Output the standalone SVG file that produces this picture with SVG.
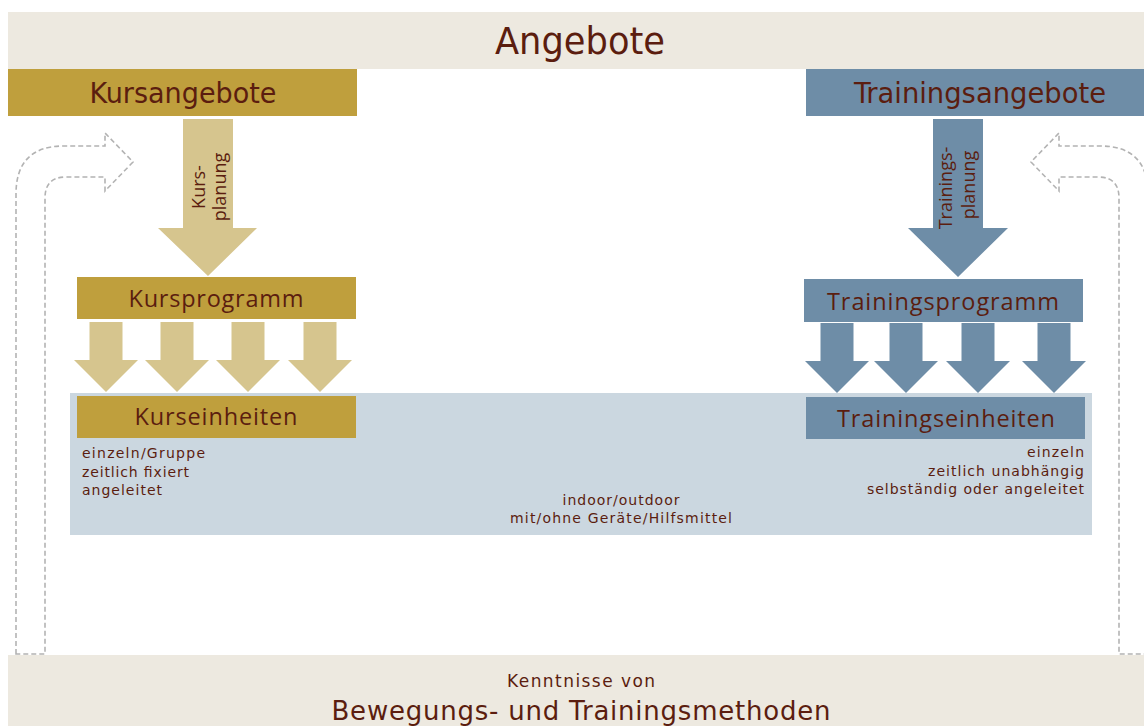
<svg xmlns="http://www.w3.org/2000/svg" width="1144" height="726" viewBox="0 0 1144 726">
<style>
.band{fill:#EDE9E0}
.gold{fill:#BF9F3D}
.gold2{fill:#D6C58E}
.blue{fill:#6E8DA7}
.lblue{fill:#CBD7E0}
.t{fill:#5B1D0F}
.cond{font-family:"DejaVu Sans Condensed","DejaVu Sans",sans-serif}
.box{font-family:"Open Sans","Noto Sans",sans-serif;font-size:23.5px;text-anchor:middle}
.small{font-family:"DejaVu Sans","Liberation Sans",sans-serif;font-size:14px}
.k1{font-family:"DejaVu Sans","Liberation Sans",sans-serif;font-size:17px}
.k2{font-family:"DejaVu Sans","Liberation Sans",sans-serif;font-size:26px}
.rot{font-family:"Open Sans","Noto Sans",sans-serif;font-size:18px;text-anchor:middle}
.dash{fill:none;stroke:#B3B3B3;stroke-width:1.6;stroke-dasharray:5 3}
</style>
<defs>
<path id="sa" d="M-16.5,0 H16.5 V38 H32 L0,70 L-32,38 H-16.5 Z"/>
</defs>
<rect width="1144" height="726" fill="#FFFFFF"/>

<g id="angebote">
<rect class="band" x="8" y="12" width="1136" height="57"/>
<text class="t cond" x="580" y="54" font-size="37" text-anchor="middle" textLength="170" lengthAdjust="spacingAndGlyphs">Angebote</text>
</g>

<g id="kenntnisse">
<rect class="band" x="8" y="655" width="1136" height="71"/>
<text class="t k1" x="581" y="687" text-anchor="middle" textLength="148">Kenntnisse von</text>
<text class="t k2" x="581" y="720" text-anchor="middle" textLength="499">Bewegungs- und Trainingsmethoden</text>
</g>

<g id="einheiten-bereich">
<rect class="lblue" x="70" y="393" width="1022" height="142"/>
<text class="t small" x="621" y="505" text-anchor="middle" textLength="117">indoor/outdoor</text>
<text class="t small" x="621" y="523" text-anchor="middle" textLength="222">mit/ohne Geräte/Hilfsmittel</text>
</g>

<g id="connectors">
<path class="dash" d="M16,654 L16,194 Q16,146 64,146 L105,146 L105,133 L133,162 L105,191 L105,177 L66,177 Q45,177 45,198 L45,654 Z"/>
<path class="dash" d="M1148,654 L1148,194 Q1148,146 1100,146 L1059,146 L1059,133 L1031,162 L1059,191 L1059,177 L1098,177 Q1119,177 1119,198 L1119,654 Z"/>
<g id="kursplanung">
<polygon class="gold2" points="183,119 233,119 233,228 257,228 208,276 158,228 183,228"/>
<text class="t rot" transform="translate(205,187) rotate(-90)">Kurs-</text>
<text class="t rot" transform="translate(226,187) rotate(-90)">planung</text>
</g>
<g id="trainingsplanung">
<polygon class="blue" points="933,119 983,119 983,228 1008,228 958,277 908,228 933,228"/>
<text class="t rot" transform="translate(952,188) rotate(-90)">Trainings-</text>
<text class="t rot" transform="translate(975,185) rotate(-90)">planung</text>
</g>
<use href="#sa" x="106" y="322" class="gold2"/>
<use href="#sa" x="177" y="322" class="gold2"/>
<use href="#sa" x="248" y="322" class="gold2"/>
<use href="#sa" x="320" y="322" class="gold2"/>
<use href="#sa" x="837" y="323" class="blue"/>
<use href="#sa" x="906" y="323" class="blue"/>
<use href="#sa" x="978" y="323" class="blue"/>
<use href="#sa" x="1054" y="323" class="blue"/>
</g>

<g id="kursangebote">
<rect class="gold" x="8" y="69" width="349" height="47"/>
<text class="t cond" x="183" y="103" font-size="28" text-anchor="middle" textLength="187" lengthAdjust="spacingAndGlyphs">Kursangebote</text>
</g>

<g id="trainingsangebote">
<rect class="blue" x="806" y="69" width="338" height="47"/>
<text class="t cond" x="980" y="103" font-size="28" text-anchor="middle" textLength="252" lengthAdjust="spacingAndGlyphs">Trainingsangebote</text>
</g>

<g id="kursprogramm">
<rect class="gold" x="77" y="277" width="279" height="42"/>
<text class="t box" x="216" y="307" textLength="175">Kursprogramm</text>
</g>

<g id="trainingsprogramm">
<rect class="blue" x="804" y="279" width="279" height="43"/>
<text class="t box" x="943" y="310" textLength="232">Trainingsprogramm</text>
</g>

<g id="kurseinheiten">
<rect class="gold" x="77" y="396" width="279" height="42"/>
<text class="t box" x="216" y="425" textLength="163">Kurseinheiten</text>
<text class="t small" x="82" y="458" textLength="123">einzeln/Gruppe</text>
<text class="t small" x="82" y="477" textLength="107">zeitlich fixiert</text>
<text class="t small" x="82" y="495" textLength="80">angeleitet</text>
</g>

<g id="trainingseinheiten">
<rect class="blue" x="806" y="397" width="279" height="42"/>
<text class="t box" x="946" y="427" textLength="218">Trainingseinheiten</text>
<text class="t small" x="1084" y="457" text-anchor="end" textLength="57">einzeln</text>
<text class="t small" x="1084" y="476" text-anchor="end" textLength="156">zeitlich unabhängig</text>
<text class="t small" x="1084" y="494" text-anchor="end" textLength="217">selbständig oder angeleitet</text>
</g>
</svg>
